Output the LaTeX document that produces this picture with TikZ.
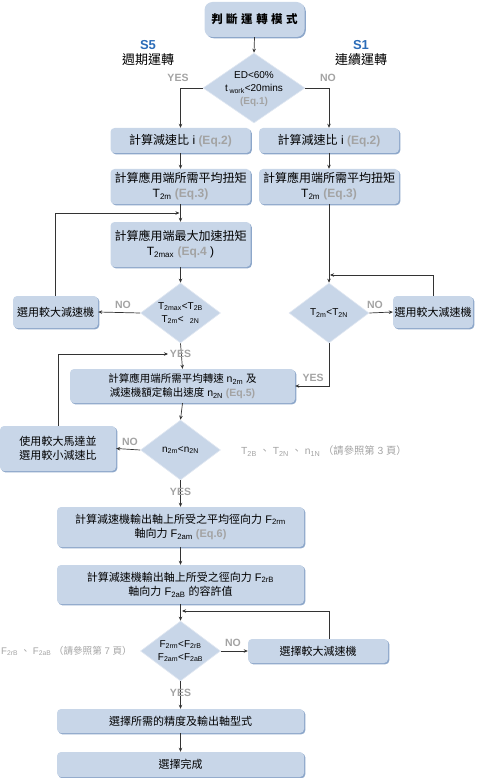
\documentclass[tikz,border=0pt]{standalone}
\usepackage{fontspec}
\setmainfont{Liberation Sans}
\newfontfamily\cjk{Noto Sans CJK TC}
\usetikzlibrary{shapes.geometric,arrows.meta,shadows}
\definecolor{boxfill}{HTML}{C8D6E8}
\definecolor{boxedge}{HTML}{8DA7CA}
\definecolor{eqgray}{HTML}{A3A3A3}
\definecolor{sblue}{HTML}{2B6CB8}
\definecolor{linec}{HTML}{333333}
\newcommand\eqg[1]{{\color{eqgray}\bfseries #1}}
\newcommand\sbs[1]{\textsubscript{#1}}
\tikzset{
 box/.style={rounded corners=4pt, fill=boxfill, inner sep=0pt, align=center,
   font=\fontsize{11}{14.5}\selectfont,
   drop shadow={shadow xshift=1.3pt, shadow yshift=-1.3pt, fill=boxedge, opacity=1}},
 bigbox/.style={box, font=\fontsize{12}{15}\selectfont},
 dia/.style={diamond, fill=boxfill, inner sep=0pt, draw=white!45!boxfill, line width=0.6pt},
 dtext/.style={align=center, font=\fontsize{10}{13}\selectfont, inner sep=0pt},
 arr/.style={draw=linec, line width=0.7pt, -{Stealth[length=4pt,width=3.5pt]}},
 yn/.style={text=eqgray, font=\bfseries\fontsize{10.5}{11}\selectfont, inner sep=1pt},
 note/.style={text=eqgray, font=\fontsize{10.3}{12}\selectfont, inner sep=0pt},
}
\begin{document}
\begin{tikzpicture}[x=1pt,y=-1pt]
\useasboundingbox (0,0) rectangle (480,778);
% top
\node[box, minimum width=100, minimum height=35, rounded corners=8pt, font=\bfseries\fontsize{11.5}{12}\selectfont] (top) at (254.5,19.5) {\cjk 判\hspace{3.5pt}斷\hspace{3.5pt}運\hspace{3.5pt}轉\hspace{3.5pt}模\hspace{3.5pt}式};
\node[font=\bfseries\fontsize{13}{13}\selectfont, text=sblue, inner sep=0pt] (s5) at (148,45) {S5};
\node[font=\cjk\fontsize{13}{13}\selectfont, inner sep=0pt] (s5t) at (148,60) {週期運轉};
\node[font=\bfseries\fontsize{13}{13}\selectfont, text=sblue, inner sep=0pt] (s1) at (361,45) {S1};
\node[font=\cjk\fontsize{13}{13}\selectfont, inner sep=0pt] (s1t) at (361,60) {連續運轉};
% decision 1
\node[dia, minimum width=102, minimum height=70] (d1) at (254,88) {};
\node[dtext] (d1t) at (254,89) {ED<60\%\\t\,\sbs{work}<20mins\\\eqg{(Eq.1)}};
% row 2,3
\node[bigbox, minimum width=140, minimum height=25] (L2) at (180.5,140.5) {{\cjk 計算減速比} i \eqg{(Eq.2)}};
\node[bigbox, minimum width=140, minimum height=25] (R2) at (329,140.5) {{\cjk 計算減速比} i \eqg{(Eq.2)}};
\node[bigbox, minimum width=140, minimum height=35] (L3) at (180.5,186.5) {{\cjk 計算應用端所需平均扭矩}\\T\sbs{2m} \eqg{(Eq.3)}};
\node[bigbox, minimum width=140, minimum height=35] (R3) at (329,186.5) {{\cjk 計算應用端所需平均扭矩}\\T\sbs{2m} \eqg{(Eq.3)}};
\node[bigbox, minimum width=140, minimum height=45] (L4) at (180.5,244.5) {{\cjk 計算應用端最大加速扭矩}\\T\sbs{2max} \eqg{(Eq.4} )};
% decision 2 left
\node[dia, minimum width=80, minimum height=60] (d2) at (180.5,313) {};
\node[dtext] (d2t) at (180.5,313) {T\sbs{2max}<T\sbs{2B}\\T\sbs{2m}<\phantom{T}\sbs{2N}};
\node[box, minimum width=85, minimum height=32] (LB2) at (55.5,312) {\cjk 選用較大減速機};
% decision 2 right
\node[dia, minimum width=80, minimum height=60] (d2r) at (329,313) {};
\node[dtext] (d2rt) at (329,313) {T\sbs{2m}<T\sbs{2N}};
\node[box, minimum width=80, minimum height=32] (RB2) at (433,312) {\cjk 選用較大減速機};
% box 5
\node[box, minimum width=225, minimum height=34, font=\fontsize{10.5}{14}\selectfont] (B5) at (182.5,386) {{\cjk 計算應用端所需平均轉速} n\sbs{2m} {\cjk 及}\\{\cjk 減速機額定輸出速度} n\sbs{2N} \eqg{(Eq.5)}};
% decision 3
\node[dia, minimum width=80, minimum height=60] (d3) at (180.5,450) {};
\node[dtext] (d3t) at (180.5,450) {n\sbs{2m}<n\sbs{2N}};
\node[box, minimum width=116, minimum height=45] (LB3) at (58,448.5) {{\cjk 使用較大馬達並}\\{\cjk 選用較小減速比}};
\node[note, anchor=west] (n1) at (241,451) {T\sbs{2B} {\cjk 、} T\sbs{2N} {\cjk 、} n\sbs{1N} {\cjk （請參照第} 3 {\cjk 頁）}};
% boxes 6,7
\node[box, minimum width=247, minimum height=40] (B6) at (180.5,527) {{\cjk 計算減速機輸出軸上所受之平均徑向力} F\sbs{2rm}\\{\cjk 軸向力} F\sbs{2am} \eqg{(Eq.6)}};
\node[box, minimum width=247, minimum height=39] (B7) at (180.5,584.5) {{\cjk 計算減速機輸出軸上所受之徑向力} F\sbs{2rB}\\{\cjk 軸向力} F\sbs{2aB} {\cjk 的容許值}};
% decision 4
\node[dia, minimum width=80, minimum height=60] (d4) at (180.5,651) {};
\node[dtext] (d4t) at (180.5,651) {F\sbs{2rm}<F\sbs{2rB}\\F\sbs{2am}<F\sbs{2aB}};
\node[box, minimum width=140, minimum height=24] (RB4) at (318,651) {\cjk 選擇較大減速機};
\node[note, anchor=west, font=\fontsize{9.6}{12}\selectfont] (n2) at (1,651) {F\sbs{2rB} {\cjk 、} F\sbs{2aB} {\cjk （請參照第} 7 {\cjk 頁）}};
% boxes 8,9
\node[box, minimum width=247, minimum height=24] (B8) at (180.5,721) {\cjk 選擇所需的精度及輸出軸型式};
\node[box, minimum width=247, minimum height=25] (B9) at (180.5,764.5) {\cjk 選擇完成};
% coordinates for feedback ends
\coordinate (fb1) at (179.5,213);
\coordinate (fb2) at (330,275);
\coordinate (fb3) at (168,354);
\coordinate (fb4) at (182,611);
% connectors
\draw[arr] (top.south) -- (d1.north);
\draw[arr] (d1.west) -| (L2.north);
\draw[arr] (d1.east) -| (R2.north);
\draw[arr] (L2.south) -- (L3.north);
\draw[arr] (R2.south) -- (R3.north);
\draw[arr] (L3.south) -- (L4.north);
\draw[arr] (LB2.north) |- (fb1);
\draw[arr] (L4.south) -- (d2.north);
\draw[arr] (d2.west) -- (LB2.east);
\draw[arr] (d2.south) -- (B5.north);
\draw[arr] (LB3.north) |- (fb3);
\draw[arr] (R3.south) -- (d2r.north);
\draw[arr] (RB2.north) |- (fb2);
\draw[arr] (d2r.east) -- (RB2.west);
\draw[arr] (d2r.south) |- (B5.east);
\draw[arr] (B5.south) -- (d3.north);
\draw[arr] (d3.west) -- (LB3.east);
\draw[arr] (d3.south) -- (B6.north);
\draw[arr] (B6.south) -- (B7.north);
\draw[arr] (B7.south) -- (d4.north);
\draw[arr] ([xshift=11pt]RB4.north) |- (fb4);
\draw[arr] (d4.east) -- (RB4.west);
\draw[arr] (d4.south) -- (B8.north);
\draw[arr] (B8.south) -- (B9.north);
% labels
\node[yn] (y1) at (178,78) {YES};
\node[yn] (no1) at (328,78) {NO};
\node[yn] (no2) at (123,305) {NO};
\node[yn] (y2) at (180.5,354) {YES};
\node[yn] (no2r) at (375,305) {NO};
\node[yn] (y2r) at (313,378) {YES};
\node[yn] (no3) at (130,442) {NO};
\node[yn] (y3) at (180.5,492) {YES};
\node[yn] (no4) at (233,643) {NO};
\node[yn] (y4) at (180.5,693) {YES};
\end{tikzpicture}
\end{document}
